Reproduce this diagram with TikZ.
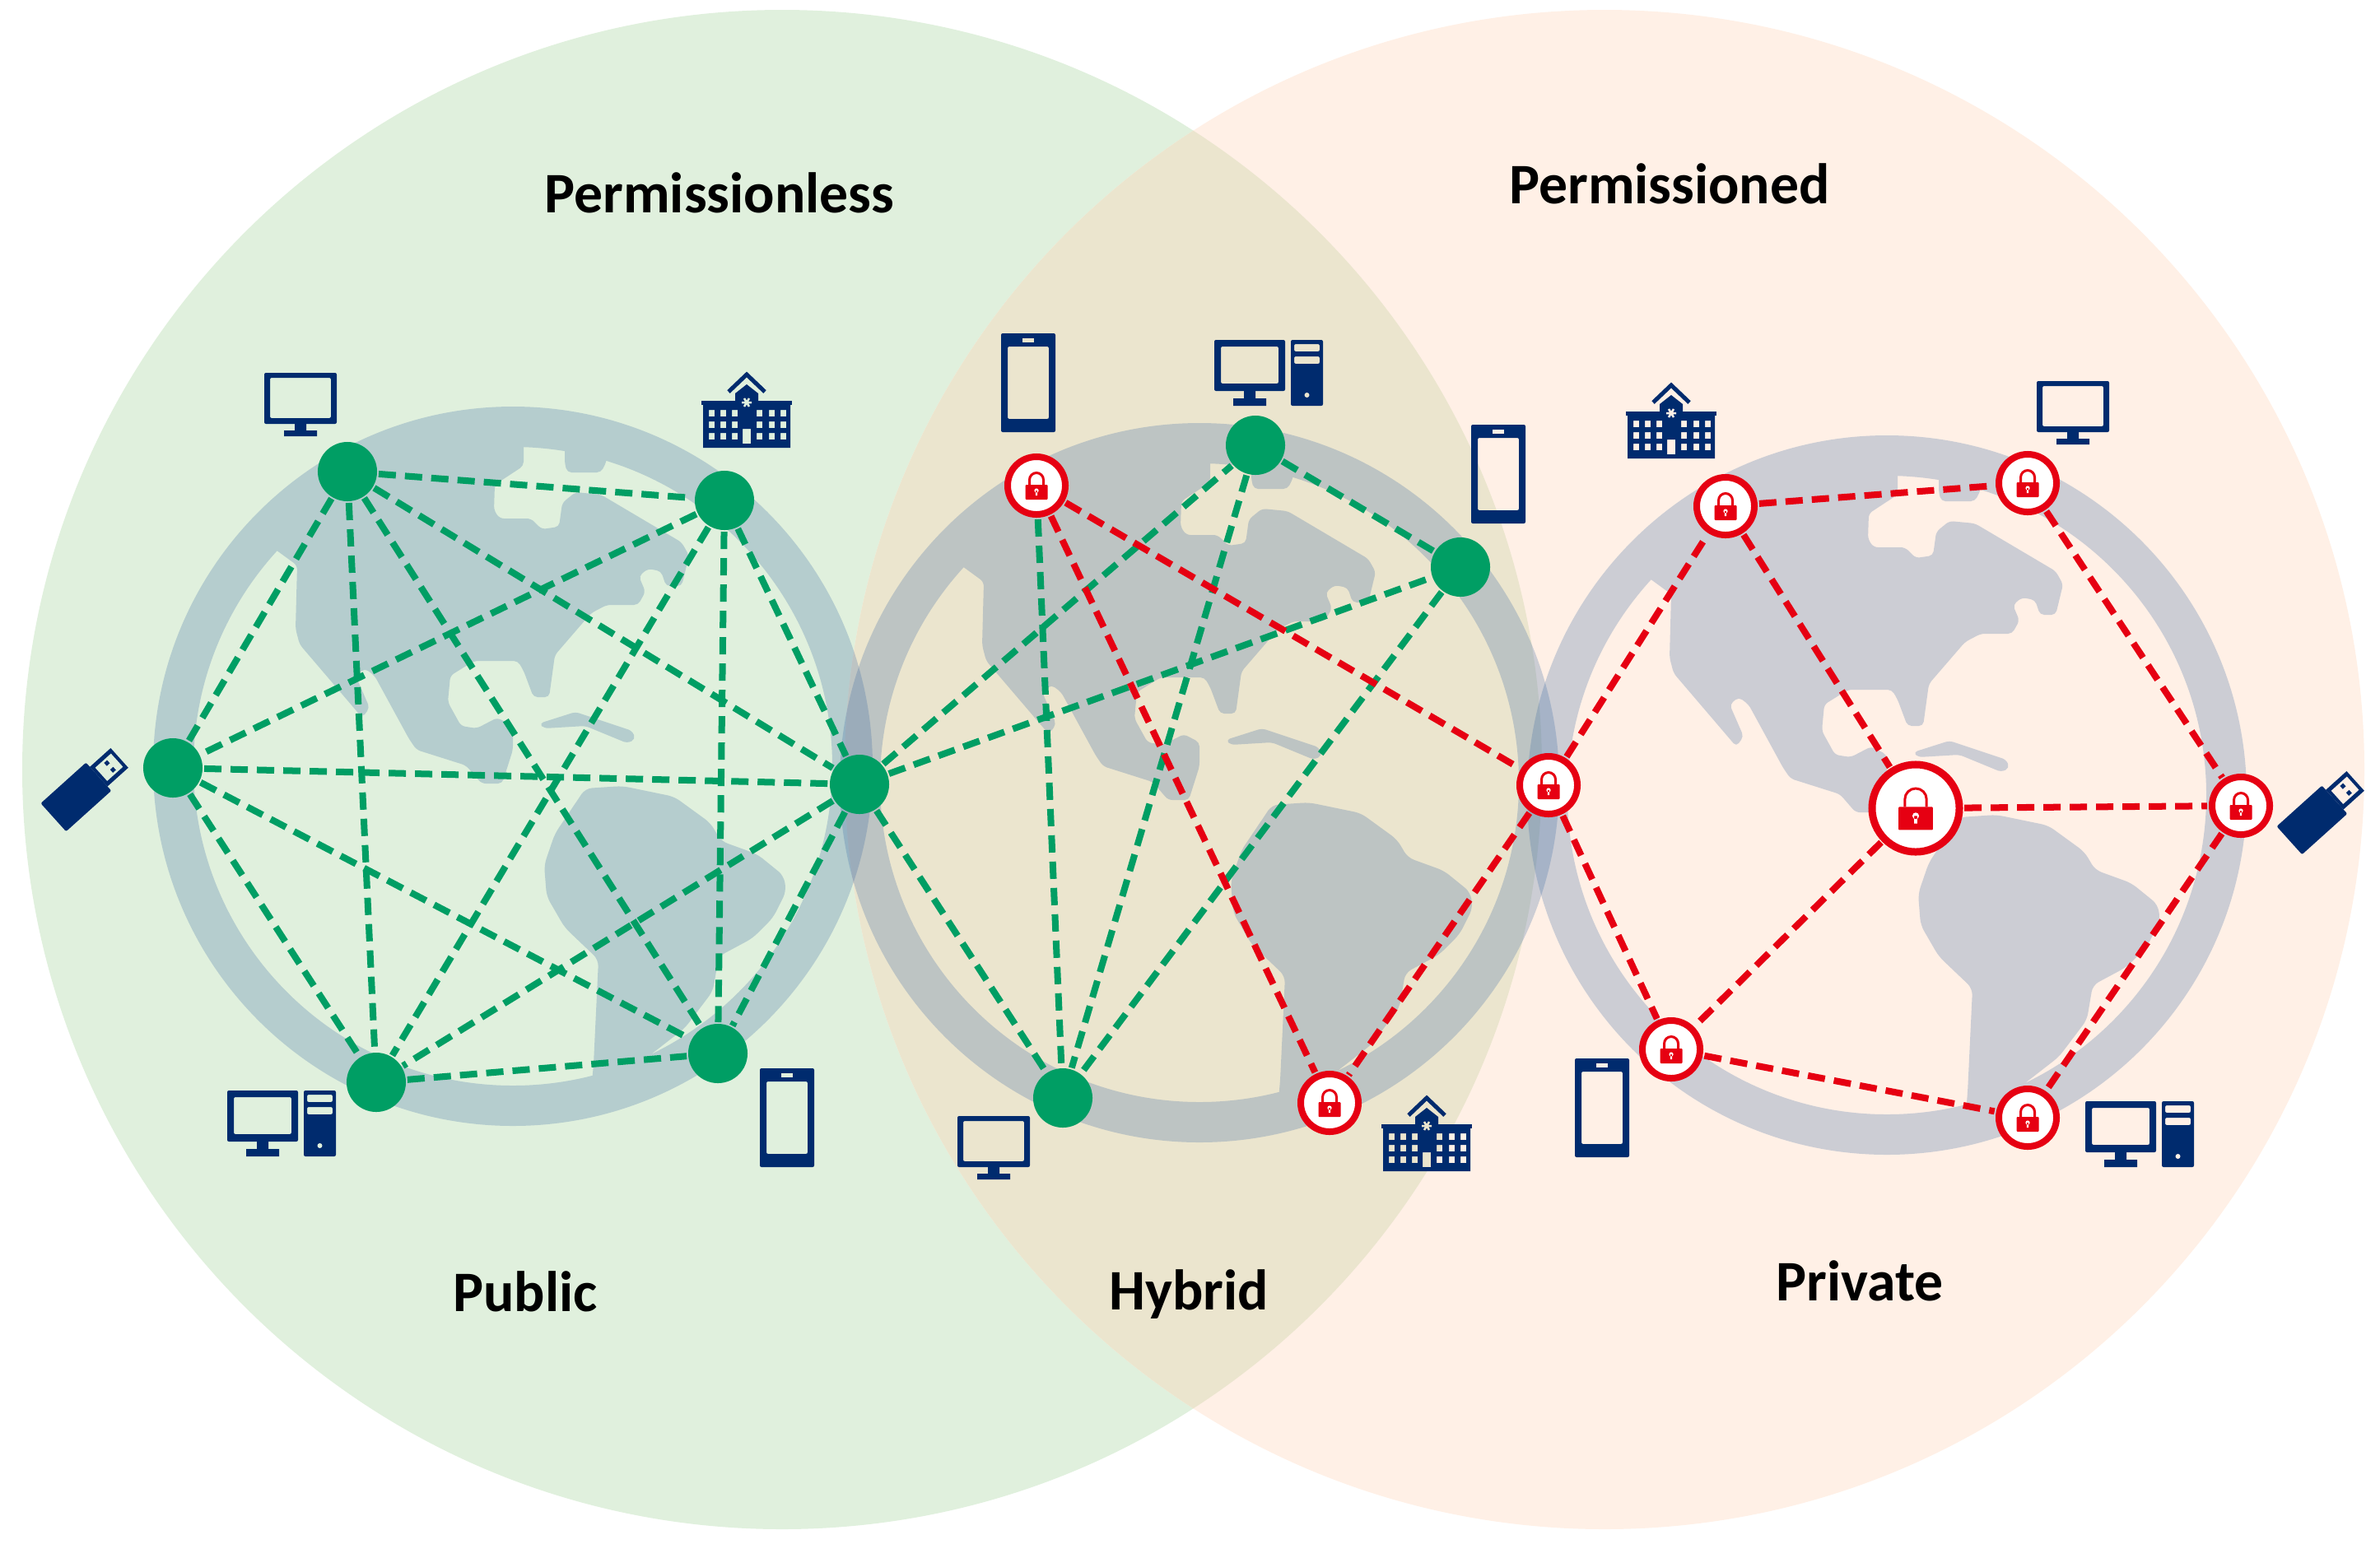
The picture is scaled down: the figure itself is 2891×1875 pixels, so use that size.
\documentclass[tikz,border=0pt]{standalone}
\usepackage{fontspec}
\setmainfont{Carlito}
\usepackage{tikz}
\definecolor{pubgreen}{HTML}{E0F0DD}
\definecolor{privpeach}{HTML}{FFF0E6}
\definecolor{hybsand}{HTML}{EBE5CE}
\definecolor{ringblue}{HTML}{3B69A4}
\definecolor{netgreen}{HTML}{009E64}
\definecolor{netred}{HTML}{E60012}
\definecolor{devnavy}{HTML}{002B6E}

\begin{document}
\begin{tikzpicture}[
    x=0.01cm,y=-0.01cm,
    nodeG/.style = {circle,fill=netgreen,minimum size=0.72cm,inner sep=0pt,outer sep=0.02cm},
    nodeR/.style = {circle,fill=white,draw=netred,line width=0.08cm,minimum size=0.7cm,inner sep=0pt,outer sep=0.06cm},
    nodeB/.style = {nodeR,line width=0.09cm,minimum size=1.06cm},
    lnkG/.style  = {netgreen,line width=0.08cm,dash pattern=on 0.21cm off 0.11cm},
    lnkR/.style  = {netred,line width=0.08cm,dash pattern=on 0.21cm off 0.11cm},
    ttl/.style   = {font=\fontsize{19.8}{23}\selectfont\bfseries,text=black},
    globe/.pic = {
      \begin{scope}[transparency group,opacity=0.26]
        \fill[ringblue,even odd rule] (0,0) circle[radius=437] circle[radius=388];
        \fill[ringblue,rounded corners=0.05cm]
          (-300,-270) -- (-288,-263) -- (-262,-244) -- (-264,-167) -- (-259,-148) -- (-183,-59)
          -- (-174,-71) -- (-191,-110) -- (-180,-119) -- (-168,-110) -- (-126,-33) -- (-117,-20)
          -- (-57,-1) -- (-38,21) -- (-13,21) -- (0,-20) -- (0,-49) -- (-19,-59) -- (-44,-46)
          -- (-63,-49) -- (-79,-78) -- (-76,-110) -- (-47,-128) -- (6,-128) -- (13,-116)
          -- (25,-84) -- (44,-84) -- (51,-135) -- (95,-186) -- (114,-196) -- (152,-196)
          -- (161,-212) -- (153,-231) -- (164,-240) -- (180,-237) -- (186,-219) -- (205,-219)
          -- (214,-256) -- (205,-272) -- (107,-330) -- (76,-333) -- (60,-320) -- (56,-291)
          -- (35,-288) -- (22,-301) -- (-16,-301) -- (-23,-311) -- (-22,-342) -- (13,-365)
          -- (13,-400) -- (-160,-375) -- cycle;
        \fill[ringblue,rounded corners=0.05cm]
          (63,-400) -- (63,-368) -- (66,-357) -- (107,-357) -- (114,-371) -- (114,-400) -- cycle;
        \fill[ringblue,rounded corners=0.05cm]
          (32,-52) -- (76,-66) -- (145,-43) -- (149,-33) -- (139,-28) -- (88,-49) -- (38,-46) -- cycle;
        \fill[ringblue,rounded corners=0.08cm]
          (38,120) -- (51,82) -- (88,27) -- (133,24) -- (196,37) -- (240,69) -- (253,91)
          -- (297,107) -- (329,133) -- (332,152) -- (316,184) -- (291,209) -- (250,231)
          -- (243,273) -- (209,318) -- (164,353) -- (175,375) -- (95,395) -- (98,362)
          -- (104,235) -- (63,196) -- (41,158) -- cycle;
      \end{scope}
    },
    lock/.pic = {
      \fill[netred,rounded corners=0.01cm] (-13.5,-1) rectangle (13.5,17);
      \draw[netred,line width=0.03cm] (-8.5,-1) -- (-8.5,-7) arc[start angle=180,end angle=360,radius=8.5] -- (8.5,-1);
      \fill[white] (0,6) circle[radius=2.6] (-1.2,6) rectangle (1.2,12);
    },
    mon/.pic = {
      \fill[devnavy,even odd rule,rounded corners=0.02cm] (-44,-39) rectangle (44,23) (-37,-33) rectangle (37,16);
      \fill[devnavy] (-7,23) rectangle (7,32) (-20,31) rectangle (20,38);
    },
    desk/.pic = {
      \fill[devnavy,even odd rule,rounded corners=0.02cm] (-66,-40) rectangle (20,22) (-58,-32) rectangle (12,13);
      \fill[devnavy] (-30,22) rectangle (-16,32) (-43,31) rectangle (-3,40);
      \fill[devnavy,even odd rule,rounded corners=0.02cm] (27,-40) rectangle (66,40)
        (31,-35) rectangle (62,-26) (31,-20) rectangle (62,-11);
      \fill[pic actions,even odd rule] (46.5,27) circle[radius=3];
    },
    phone/.pic = {
      \fill[devnavy,even odd rule,rounded corners=0.02cm] (-33,-60) rectangle (33,60) (-25,-44) rectangle (25,44);
      \fill[pic actions] (-7,-54) rectangle (7,-49);
    },
    hosp/.pic = {
      \fill[devnavy] (-55,-11) rectangle (55,-6);
      \fill[devnavy,even odd rule] (-53,-7) rectangle (53,46)
        \foreach \cx in {-46,-32,-18,12,27,41} {\foreach \cy in {0,14,28} {(\cx,\cy) rectangle ++(7,8)}}
        (-5,23) rectangle (5,41);
      \fill[devnavy] (-14,-7) -- (-14,-20) -- (0,-31) -- (14,-20) -- (14,-7) -- cycle;
      \draw[devnavy,line width=0.05cm] (-22,-22) -- (0,-43) -- (22,-22);
      \draw[pic actions,line width=0.025cm] (-6,-9) -- (6,-9) (-3,-14) -- (3,-4) (3,-14) -- (-3,-4);
    },
    usb/.pic = {
      \fill[devnavy,rounded corners=0.02cm] (-54,-23) rectangle (20,23);
      \fill[devnavy,even odd rule] (20,-16) rectangle (54,16) (24,-11) rectangle (50,11)
        (36,-8) rectangle (41,-3) (36,3) rectangle (41,8);
    },
  ]
  \useasboundingbox (0,0) rectangle (2891,1875);

  % Sets
  \fill[pubgreen] (950,935) circle[radius=923];
  \fill[privpeach] (1949,935) circle[radius=923];
  \begin{scope}
    \clip (950,935) circle[radius=923];
    \fill[hybsand] (1949,935) circle[radius=923];
  \end{scope}

  % Globes
  \pic at (623,931) {globe};
  \pic at (1457,951) {globe};
  \pic at (2292,966) {globe};

  \node[ttl] (permless) at (874,234) {Permissionless};
  \node[ttl] (permed) at (2028,223) {Permissioned};
  \node[ttl] (public) at (638,1569) {Public};
  \node[ttl] (hybrid) at (1444,1573) {Hybrid};
  \node[ttl] (private) at (2259,1556) {Private};

  % Public
  \node[nodeG] (pubA) at (422,573) {};
  \node[nodeG] (pubB) at (880,608) {};
  \node[nodeG] (pubC) at (210,933) {};
  \node[nodeG] (hub) at (1044,953) {};
  \node[nodeG] (pubE) at (457,1315) {};
  \node[nodeG] (pubF) at (872,1280) {};

  \draw[lnkG] (pubA) -- (pubB);
  \draw[lnkG] (pubA) -- (pubC);
  \draw[lnkG] (pubA) -- (hub);
  \draw[lnkG] (pubA) -- (pubE);
  \draw[lnkG] (pubA) -- (pubF);
  \draw[lnkG] (pubB) -- (pubC);
  \draw[lnkG] (pubB) -- (hub);
  \draw[lnkG] (pubB) -- (pubE);
  \draw[lnkG] (pubB) -- (pubF);
  \draw[lnkG] (pubC) -- (hub);
  \draw[lnkG] (pubC) -- (pubE);
  \draw[lnkG] (pubC) -- (pubF);
  \draw[lnkG] (hub) -- (pubE);
  \draw[lnkG] (hub) -- (pubF);
  \draw[lnkG] (pubE) -- (pubF);

  \pic at (365,492) {mon};
  \pic[pubgreen] at (907,498) {hosp};
  \pic[rotate=42] at (105,957) {usb};
  \pic[pubgreen] at (342,1365) {desk};
  \pic[pubgreen] at (956,1358) {phone};

  % Hybrid
  \node[nodeG] (hybA) at (1525,541) {};
  \node[nodeG] (hybB) at (1774,689) {};
  \node[nodeG] (hybC) at (1291,1334) {};
  \node[nodeR] (lockA) at (1259,590) {};
  \node[nodeR] (gate) at (1881,954) {};
  \node[nodeR] (lockB) at (1615,1340) {};
  \pic at (lockA) {lock};
  \pic at (gate) {lock};
  \pic at (lockB) {lock};

  \draw[lnkG] (hub) -- (hybA);
  \draw[lnkG] (hub) -- (hybB);
  \draw[lnkG] (hub) -- (hybC);
  \draw[lnkG] (hybA) -- (hybB);
  \draw[lnkG] (hybA) -- (hybC);
  \draw[lnkG] (hybB) -- (hybC);
  \draw[lnkG] (lockA) -- (hybC);
  \draw[lnkR] (lockA) -- (gate);
  \draw[lnkR] (lockA) -- (lockB);
  \draw[lnkR] (gate) -- (lockB);

  \pic[hybsand] at (1249,465) {phone};
  \pic[hybsand] at (1541,453) {desk};
  \pic[privpeach] at (1820,576) {phone};
  \pic at (1207,1395) {mon};
  \pic[hybsand] at (1733,1377) {hosp};

  % Private
  \node[nodeB] (privO) at (2327,982) {};
  \node[nodeR] (privA) at (2096,615) {};
  \node[nodeR] (privB) at (2463,587) {};
  \node[nodeR] (privC) at (2722,979) {};
  \node[nodeR] (privD) at (2030,1275) {};
  \node[nodeR] (privE) at (2463,1358) {};
  \pic[scale=1.55] at (privO) {lock};
  \pic at (privA) {lock};
  \pic at (privB) {lock};
  \pic at (privC) {lock};
  \pic at (privD) {lock};
  \pic at (privE) {lock};

  \draw[lnkR] (gate) -- (privA);
  \draw[lnkR] (gate) -- (privD);
  \draw[lnkR] (privA) -- (privB);
  \draw[lnkR] (privA) -- (privO);
  \draw[lnkR] (privB) -- (privC);
  \draw[lnkR] (privO) -- (privC);
  \draw[lnkR] (privO) -- (privD);
  \draw[lnkR] (privC) -- (privE);
  \draw[lnkR] (privD) -- (privE);

  \pic[privpeach] at (2030,511) {hosp};
  \pic at (2518,502) {mon};
  \pic[rotate=42] at (2821,985) {usb};
  \pic[privpeach] at (1946,1346) {phone};
  \pic[privpeach] at (2599,1378) {desk};

\end{tikzpicture}
\end{document}
